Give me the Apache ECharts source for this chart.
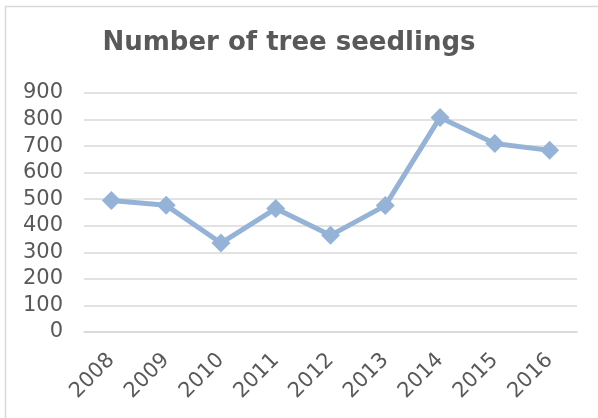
<!DOCTYPE html>
<html>
<head>
<meta charset="utf-8">
<script src="https://cdn.jsdelivr.net/npm/echarts@6/dist/echarts.min.js"></script>
<style>
html,body{margin:0;padding:0;background:#fff;}
#chart{width:598px;height:418px;}
</style>
</head>
<body>
<div id="chart"></div>
<script>
var titleText = 'Number of tree seedlings';
var years = ['2008','2009','2010','2011','2012','2013','2014','2015','2016'];
var seedlings = [495, 477, 335, 465, 364, 476, 808, 710, 684];
var yTicks = [0, 100, 200, 300, 400, 500, 600, 700, 800, 900];

var chart = echarts.init(document.getElementById('chart'), null, {renderer: 'canvas'});
chart.setOption({
  animation: false,
  backgroundColor: '#fff',
  graphic: [{
    type: 'rect',
    shape: {x: 5.5, y: 6.5, width: 620, height: 440},
    style: {fill: 'none', stroke: '#D9D9D9', lineWidth: 1.5},
    silent: true
  }],
  title: {
    text: titleText,
    left: 284,
    top: 25,
    textAlign: 'center',
    textStyle: {
      fontFamily: 'DejaVu Sans',
      fontWeight: 'bold',
      fontSize: 26,
      color: '#595959'
    }
  },
  grid: {left: 84, right: 21, top: 93, bottom: 86, containLabel: false},
  xAxis: {
    type: 'category',
    data: years,
    boundaryGap: true,
    axisLine: {show: true, lineStyle: {color: '#D9D9D9', width: 1.5}},
    axisTick: {show: false},
    axisLabel: {
      rotate: 45,
      margin: 25,
      fontFamily: 'DejaVu Sans',
      fontSize: 21,
      color: '#595959'
    }
  },
  yAxis: {
    type: 'value',
    min: yTicks[0],
    max: yTicks[yTicks.length - 1],
    interval: 100,
    axisLine: {show: false},
    axisTick: {show: false},
    splitLine: {lineStyle: {color: '#D9D9D9', width: 1.5}},
    axisLabel: {
      margin: 21,
      fontFamily: 'DejaVu Sans',
      fontSize: 21,
      color: '#595959'
    }
  },
  series: [{
    type: 'line',
    data: seedlings,
    symbol: 'diamond',
    symbolSize: 19,
    lineStyle: {color: '#95B3D7', width: 5},
    itemStyle: {color: '#95B3D7'}
  }]
});
</script>
</body>
</html>
